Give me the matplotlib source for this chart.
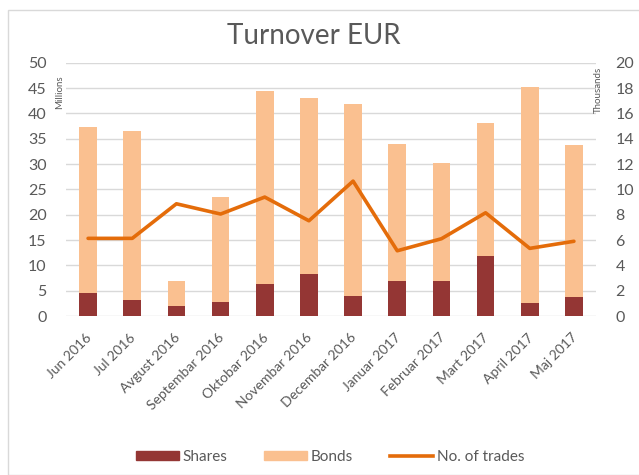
import matplotlib
matplotlib.use("Agg")
import matplotlib.pyplot as plt
from matplotlib.patches import Rectangle
from matplotlib.lines import Line2D
import matplotlib.transforms as mtransforms
import numpy as np

plt.rcParams['font.family'] = ['Lato', 'DejaVu Sans']

months = ["Jun 2016", "Jul 2016", "Avgust 2016", "Septembar 2016", "Oktobar 2016",
          "Novembar 2016", "Decembar 2016", "Januar 2017", "Februar 2017",
          "Mart 2017", "April 2017", "Maj 2017"]
shares = [4.5, 3.2, 1.9, 2.8, 6.4, 8.3, 3.9, 6.9, 7.0, 11.8, 2.6, 3.8]
totals = [37.4, 36.5, 6.9, 23.5, 44.4, 43.1, 41.8, 33.9, 30.2, 38.1, 45.3, 33.7]
bonds = [t - s for t, s in zip(totals, shares)]
trades = [6.13, 6.13, 8.86, 8.05, 9.39, 7.52, 10.65, 5.15, 6.1, 8.15, 5.34, 5.9]

c_shares = "#943634"
c_bonds = "#FAC090"
c_line = "#E46C0A"
c_text = "#595959"
c_grid = "#D9D9D9"

W, H = 639, 475
fig = plt.figure(figsize=(W / 100, H / 100), dpi=100)

# chart frame
fig.patches.append(Rectangle((8 / W, 0), 1.2, 1 - 10 / H, transform=fig.transFigure,
                             fill=False, edgecolor="#D9D9D9", linewidth=1.0))

ax = fig.add_axes([66 / W, 1 - 316 / H, (596 - 66) / W, (316 - 62.7) / H])
x = np.arange(len(months))
ax.bar(x, shares, width=0.4, color=c_shares, zorder=3)
ax.bar(x, bonds, width=0.4, bottom=shares, color=c_bonds, zorder=3)
ax.set_xlim(-0.5, len(months) - 0.5)
ax.set_ylim(0, 50)
ax.set_yticks(range(0, 51, 5))
ax.yaxis.grid(True, color=c_grid, linewidth=1.0, zorder=0)
ax.set_axisbelow(True)
for s in ax.spines.values():
    s.set_visible(False)
ax.tick_params(axis='both', length=0, colors=c_text, labelsize=11.5)
ax.tick_params(axis='y', pad=14)
ax.set_xticks(x)
ax.set_xticklabels(months, rotation=45, ha='right', rotation_mode='anchor', fontsize=10)
ax.tick_params(axis='x', pad=11)
offset = mtransforms.ScaledTranslation(-2 / 72, 0, fig.dpi_scale_trans)
for lbl in ax.get_xticklabels():
    lbl.set_transform(lbl.get_transform() + offset)

ax2 = ax.twinx()
ax2.plot(x, trades, color=c_line, linewidth=2.6, solid_capstyle='round',
         solid_joinstyle='round', zorder=5)
ax2.set_ylim(0, 20)
ax2.set_yticks(range(0, 21, 2))
for s in ax2.spines.values():
    s.set_visible(False)
ax2.tick_params(axis='y', length=0, colors=c_text, labelsize=11.5, pad=14)

fig.text(60 / W, 1 - 92 / H, "Millions", rotation=90, ha='center', va='center',
         fontsize=7, color=c_text)
fig.text(598 / W, 1 - 90 / H, "Thousands", rotation=90, ha='center', va='center',
         fontsize=7, color=c_text)

fig.text(314 / W, 1 - 36 / H, "Turnover EUR", ha='center', va='center',
         fontsize=20, color=c_text)

handles = [Rectangle((0, 0), 1, 1, color=c_shares),
           Rectangle((0, 0), 1, 1, color=c_bonds),
           Line2D([0], [0], color=c_line, linewidth=2.6)]
fig.legend(handles, ["Shares", "Bonds", "No. of trades"], loc='center',
           bbox_to_anchor=(330 / W, 1 - 457 / H), ncol=3,
           frameon=False, fontsize=11, labelcolor=c_text, handlelength=2.8,
           handleheight=0.6, columnspacing=2.4, handletextpad=0.26)

fig.savefig("out.png", dpi=100)
